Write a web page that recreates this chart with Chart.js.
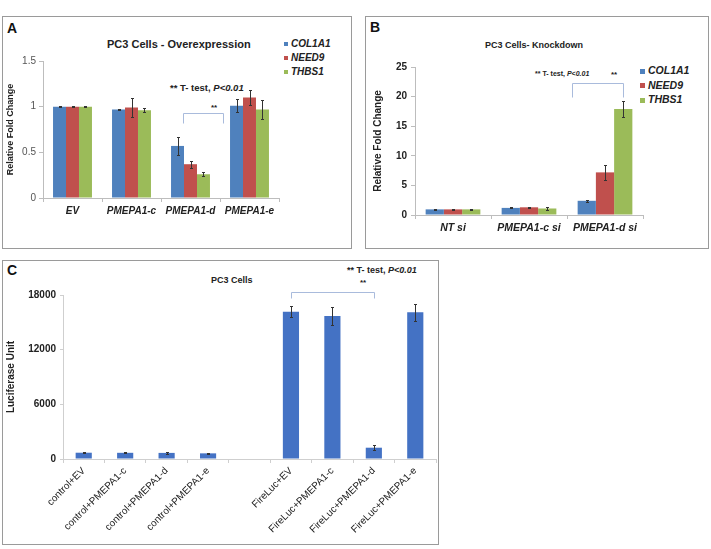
<!DOCTYPE html>
<html>
<head>
<meta charset="utf-8">
<script src="https://cdn.jsdelivr.net/npm/chart.js@4/dist/chart.umd.min.js"></script>
<style>
  body { margin: 0; width: 711px; height: 549px; position: relative; background: #fff; overflow: hidden;
         font-family: "Liberation Sans", Arial, sans-serif; }
  .panel { position: absolute; border: 1px solid #9a9a9a; box-sizing: border-box; }
  .txt { position: absolute; white-space: nowrap; color: #222; font-weight: bold; }
  .letter { font-size: 14px; color: #111; }
  canvas { position: absolute; }
  .leg { position: absolute; font-weight: bold; font-style: italic; color: #222; }
  .leg div { white-space: nowrap; }
  .leg span { display: inline-block; vertical-align: middle; margin-right: 3px; }
</style>
</head>
<body>
<div class="panel" style="left:2px;top:16px;width:350px;height:233px"></div>
<div class="panel" style="left:365px;top:16px;width:344px;height:233px"></div>
<div class="panel" style="left:2px;top:260px;width:437px;height:285px"></div>

<div class="txt letter" style="left:7px;top:20px">A</div>
<div class="txt letter" style="left:370px;top:19px">B</div>
<div class="txt letter" style="left:7px;top:262px">C</div>

<div class="txt" style="left:107px;top:38px;font-size:11px">PC3 Cells - Overexpression</div>
<div class="txt" style="left:485px;top:40px;font-size:9px">PC3 Cells- Knockdown</div>
<div class="txt" style="left:211px;top:275px;font-size:9px">PC3 Cells</div>

<div class="txt" style="left:170px;top:82px;font-size:9.5px">** T- test, <i>P&lt;0.01</i></div>
<div class="txt" style="left:211px;top:103px;font-size:8px">**</div>
<div class="txt" style="left:535px;top:70px;font-size:7px">** T- test, <i>P&lt;0.01</i></div>
<div class="txt" style="left:611px;top:70px;font-size:8px">**</div>
<div class="txt" style="left:347px;top:265px;font-size:9px">** T- test, <i>P&lt;0.01</i></div>
<div class="txt" style="left:360px;top:278px;font-size:8px">**</div>

<div id="legA" class="leg" style="left:284px;top:37px;font-size:10px;line-height:14px"></div>
<div id="legB" class="leg" style="left:640px;top:63px;font-size:10.5px;line-height:14.5px"></div>

<canvas id="chartA" width="347" height="230" style="left:3px;top:17px"></canvas>
<canvas id="chartB" width="341" height="230" style="left:366px;top:17px"></canvas>
<canvas id="chartC" width="434" height="283" style="left:3px;top:261px"></canvas>

<script>
// genes and groups
const genes = ['COL1A1', 'NEED9', 'THBS1'];
const geneColors = ['#4F81BD', '#C0504D', '#9BBB59'];

// A - overexpression
const overLabels = ['EV', 'PMEPA1-c', 'PMEPA1-d', 'PMEPA1-e'];
const overCOL1A1 = [1.0, 0.97, 0.57, 1.01];
const overNEED9 = [1.0, 0.99, 0.37, 1.10];
const overTHBS1 = [1.0, 0.96, 0.26, 0.97];
const overErrCOL1A1 = [0.005, 0.005, 0.10, 0.07];
const overErrNEED9 = [0.005, 0.10, 0.04, 0.08];
const overErrTHBS1 = [0.005, 0.02, 0.02, 0.10];

// B - knockdown
const kdLabels = ['NT si', 'PMEPA1-c si', 'PMEPA1-d si'];
const kdCOL1A1 = [0.95, 1.2, 2.4];
const kdNEED9 = [0.95, 1.3, 7.2];
const kdTHBS1 = [0.95, 1.1, 17.9];
const kdErrCOL1A1 = [0.05, 0.1, 0.2];
const kdErrNEED9 = [0.05, 0.1, 1.3];
const kdErrTHBS1 = [0.1, 0.2, 1.3];

// C - luciferase
const lucLabels = ['control+EV', 'control+PMEPA1-c', 'control+PMEPA1-d', 'control+PMEPA1-e', '',
                   'FireLuc+EV', 'FireLuc+PMEPA1-c', 'FireLuc+PMEPA1-d', 'FireLuc+PMEPA1-e'];
const lucValues = [690, 680, 670, 620, null, 16170, 15700, 1240, 16100];
const lucErrors = [80, 70, 90, 60, null, 600, 1000, 300, 900];

const FONT = '"Liberation Sans", Arial, sans-serif';
Chart.defaults.font.family = FONT;
Chart.defaults.animation = false;

const plain = v => String(v);

// legends
function buildLegend(id, boxSize) {
  const el = document.getElementById(id);
  genes.forEach((g, i) => {
    const row = document.createElement('div');
    const sq = document.createElement('span');
    sq.style.width = boxSize + 'px';
    sq.style.height = boxSize + 'px';
    sq.style.background = geneColors[i];
    row.appendChild(sq);
    row.appendChild(document.createTextNode(g));
    el.appendChild(row);
  });
}
buildLegend('legA', 4);
buildLegend('legB', 5);

const errorBars = {
  id: 'errorBars',
  afterDatasetsDraw(chart) {
    const ctx = chart.ctx;
    const y = chart.scales.y;
    ctx.save();
    ctx.strokeStyle = '#333';
    ctx.lineWidth = 1;
    chart.data.datasets.forEach((ds, i) => {
      if (!ds.errors) return;
      chart.getDatasetMeta(i).data.forEach((bar, j) => {
        const v = ds.data[j], e = ds.errors[j];
        if (v == null || !e) return;
        const top = Math.round(y.getPixelForValue(v + e)) + 0.5;
        const bot = Math.round(y.getPixelForValue(v - e)) + 0.5;
        const x = Math.round(bar.x) + 0.5;
        ctx.beginPath();
        ctx.moveTo(x, top); ctx.lineTo(x, bot);
        ctx.moveTo(x - 1.5, top); ctx.lineTo(x + 1.5, top);
        ctx.moveTo(x - 1.5, bot); ctx.lineTo(x + 1.5, bot);
        ctx.stroke();
      });
    });
    ctx.restore();
  }
};

const bracket = {
  id: 'bracket',
  afterDatasetsDraw(chart, args, o) {
    if (!o || o.from == null) return;
    const { x, y } = chart.scales;
    const x1 = Math.round(x.getPixelForValue(o.from)) + 0.5;
    const x2 = Math.round(x.getPixelForValue(o.to)) + 0.5;
    const yt = Math.round(y.getPixelForValue(o.top)) + 0.5;
    const yb = Math.round(y.getPixelForValue(o.foot)) + 0.5;
    const ctx = chart.ctx;
    ctx.save();
    ctx.strokeStyle = '#a9bbdc';
    ctx.lineWidth = 1;
    ctx.beginPath();
    ctx.moveTo(x1, yb); ctx.lineTo(x1, yt); ctx.lineTo(x2, yt); ctx.lineTo(x2, yb);
    ctx.stroke();
    ctx.restore();
  }
};

function geneSets(a, b, c, ea, eb, ec) {
  return [a, b, c].map((d, i) => ({
    label: genes[i],
    data: d,
    errors: [ea, eb, ec][i],
    backgroundColor: geneColors[i],
    borderWidth: 0
  }));
}

new Chart(document.getElementById('chartA'), {
  type: 'bar',
  data: { labels: overLabels, datasets: geneSets(overCOL1A1, overNEED9, overTHBS1, overErrCOL1A1, overErrNEED9, overErrTHBS1) },
  options: {
    responsive: false,
    devicePixelRatio: 1,
    categoryPercentage: 0.66,
    barPercentage: 1.0,
    layout: { padding: { top: 44, right: 71, left: 0, bottom: 0 } },
    plugins: {
      legend: { display: false },
      tooltip: { enabled: false },
      bracket: { from: 1.87, to: 2.55, top: 0.93, foot: 0.82 }
    },
    scales: {
      x: {
        grid: { drawOnChartArea: false, tickLength: 4, color: '#bdbdbd' },
        border: { color: '#bdbdbd' },
        ticks: { color: '#222', padding: 3, font: { size: 10, weight: 'bold', style: 'italic' } },
        afterFit: s => { s.height = 49; }
      },
      y: {
        min: 0, max: 1.5,
        grid: { drawOnChartArea: false, tickLength: 4, color: '#bdbdbd' },
        border: { color: '#bdbdbd' },
        ticks: { stepSize: 0.5, color: '#555', padding: 3, font: { size: 10 }, callback: plain },
        title: { display: true, text: 'Relative Fold Change', color: '#222', font: { size: 9, weight: 'bold' }, padding: 2 },
        afterFit: s => { s.width = 40; }
      }
    }
  },
  plugins: [errorBars, bracket]
});

new Chart(document.getElementById('chartB'), {
  type: 'bar',
  data: { labels: kdLabels, datasets: geneSets(kdCOL1A1, kdNEED9, kdTHBS1, kdErrCOL1A1, kdErrNEED9, kdErrTHBS1) },
  options: {
    responsive: false,
    devicePixelRatio: 1,
    categoryPercentage: 0.72,
    barPercentage: 1.0,
    layout: { padding: { top: 50, right: 64, left: 4, bottom: 0 } },
    plugins: {
      legend: { display: false },
      tooltip: { enabled: false },
      bracket: { from: 1.57, to: 2.24, top: 22.3, foot: 19.9 }
    },
    scales: {
      x: {
        grid: { drawOnChartArea: false, tickLength: 4, color: '#bdbdbd' },
        border: { color: '#bdbdbd' },
        ticks: { color: '#222', padding: 3, font: { size: 10.5, weight: 'bold', style: 'italic' } },
        afterFit: s => { s.height = 32; }
      },
      y: {
        min: 0, max: 25,
        grid: { drawOnChartArea: false, tickLength: 4, color: '#bdbdbd' },
        border: { color: '#bdbdbd' },
        ticks: { stepSize: 5, color: '#222', padding: 4, font: { size: 10, weight: 'bold' }, callback: plain },
        title: { display: true, text: 'Relative Fold Change', color: '#222', font: { size: 10, weight: 'bold' }, padding: 2 },
        afterFit: s => { s.width = 45; }
      }
    }
  },
  plugins: [errorBars, bracket]
});

new Chart(document.getElementById('chartC'), {
  type: 'bar',
  data: {
    labels: lucLabels,
    datasets: [{ label: 'Luciferase', data: lucValues, errors: lucErrors, backgroundColor: '#4472C4', borderWidth: 0 }]
  },
  options: {
    responsive: false,
    devicePixelRatio: 1,
    categoryPercentage: 0.39,
    barPercentage: 1.0,
    layout: { padding: { top: 34, right: 1, left: 0, bottom: 0 } },
    plugins: {
      legend: { display: false },
      tooltip: { enabled: false },
      bracket: { from: 5, to: 7, top: 18330, foot: 17670 }
    },
    scales: {
      x: {
        grid: { drawOnChartArea: false, tickLength: 4, color: '#cfcfcf' },
        border: { color: '#cfcfcf' },
        ticks: { color: '#222', padding: 2, minRotation: 45, maxRotation: 45, autoSkip: false, font: { size: 10 } },
        afterFit: s => { s.height = 85; }
      },
      y: {
        min: 0, max: 18000,
        grid: { drawOnChartArea: false, tickLength: 3, color: '#cfcfcf' },
        border: { color: '#cfcfcf' },
        ticks: { stepSize: 6000, color: '#222', padding: 4, font: { size: 10, weight: 'bold' }, callback: plain },
        title: { display: true, text: 'Luciferase Unit', color: '#222', font: { size: 10, weight: 'bold' }, padding: 2 },
        afterFit: s => { s.width = 60; }
      }
    }
  },
  plugins: [errorBars, bracket]
});
</script>
</body>
</html>
